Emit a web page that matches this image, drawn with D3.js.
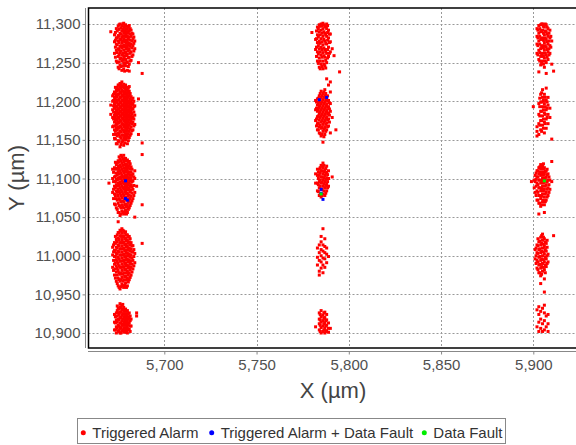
<!DOCTYPE html>
<html>
<head>
<meta charset="utf-8">
<script src="https://cdn.jsdelivr.net/npm/d3@7"></script>
<style>
  body { margin: 0; background: #fff; }
  text { font-family: "Liberation Sans", Arial, sans-serif; }
</style>
</head>
<body>
<script>
var width = 576;
var height = 445;

var xTicks = [5700, 5750, 5800, 5850, 5900];
var yTicks = [10900, 10950, 11000, 11050, 11100, 11150, 11200, 11250, 11300];

// cluster centres (µm), columns left -> right, rows top -> bottom
var alarmCenters = [
  [5678, 11272], [5678, 11185], [5678, 11092], [5678, 10997], [5678, 10918],
  [5786, 11272], [5786, 11185], [5786, 11098], [5786, 11000], [5786, 10912],
  [5905, 11272], [5905, 11183], [5905, 11092], [5905, 11000], [5905, 10918]
];

// points per cluster: [dx, [dy, dy, ...]] in µm from the centre
var alarmOffsets = [
  // col 1
  [[-7, [18]], [-5, [-10, 5, 14]], [-4, [-20, -6, 2, 10, 22]], [-3, [-28, -14, -4, 6, 13, 25]],
   [-2, [-25, -17, -9, -1, 8, 16, 28]], [-1, [-32, -20, -12, -3, 4, 11, 19, 26]],
   [0, [-30, -22, -14, -6, 1, 9, 17, 24, 29]], [1, [-26, -18, -8, 0, 7, 15, 22, 27]],
   [2, [-32, -21, -11, -2, 6, 13, 21]], [3, [-33, -24, -15, -5, 3, 11, 19, 26]],
   [4, [-19, -8, 2, 12, 20]], [5, [-12, 0, 9, 15]], [6, [-4, 6]], [8, [-22]],
   [-4.5, [-15, -2, 7, 17]], [-3.5, [-22, -9, 1, 10, 19]], [-2.5, [-30, -21, -12, -5, 4, 12, 21, 27]],
   [-1.5, [-27, -16, -7, 0, 8, 15, 23]], [-0.5, [-26, -18, -10, -1, 6, 13, 21, 28]],
   [0.5, [-33, -25, -17, -10, -2, 5, 12, 19, 26]], [1.5, [-22, -13, -4, 3, 11, 18, 25]],
   [2.5, [-27, -16, -7, 1, 9, 17, 24]], [3.5, [-20, -10, -1, 7, 15, 22]],
   [4.5, [-14, -3, 6, 16]], [5.5, [-7, 3, 11]]],
  [[-7, [-2, 10]], [-6, [-18, -6, 4, 15, 22]], [-5, [-33, -22, -12, -3, 6, 12, 20, 27]],
   [-4, [-40, -28, -20, -14, -8, -2, 3, 9, 16, 23, 30]], [-3, [-36, -26, -19, -12, -6, 0, 5, 11, 17, 24, 31, 36]],
   [-2, [-44, -31, -24, -17, -10, -4, 2, 8, 14, 20, 27, 34, 38]], [-1, [-38, -29, -21, -14, -7, -1, 4, 10, 16, 23, 29, 35, 40]],
   [0, [-42, -33, -25, -18, -11, -5, 1, 7, 13, 19, 25, 32, 37]], [1, [-35, -27, -20, -13, -6, 0, 6, 12, 18, 24, 30, 36]],
   [2, [-40, -30, -22, -15, -8, -2, 4, 10, 17, 23, 29]], [3, [-32, -24, -16, -9, -3, 3, 9, 15, 22, 28, 34]],
   [4, [-27, -18, -10, -4, 2, 8, 14, 21]], [5, [-22, -12, -5, 5, 12, 19]], [6, [-15, -3, 9]],
   [8, [-28, 18]], [10, [51]],
   [-5.5, [-28, -17, -8, 1, 9, 16, 24]], [-4.5, [-34, -24, -17, -11, -5, 0, 6, 13, 19, 26, 33]],
   [-3.5, [-40, -30, -22, -15, -9, -3, 2, 8, 14, 21, 28, 33]], [-2.5, [-37, -28, -20, -13, -7, -1, 5, 11, 17, 24, 30, 36]],
   [-1.5, [-41, -33, -25, -18, -11, -4, 1, 7, 13, 20, 26, 32, 38]], [-0.5, [-36, -29, -22, -15, -8, -2, 4, 10, 16, 22, 28, 34]],
   [0.5, [-39, -30, -23, -16, -9, -3, 3, 9, 15, 21, 27, 33]], [1.5, [-32, -24, -17, -10, -4, 2, 8, 14, 20, 26, 33]],
   [2.5, [-36, -27, -19, -12, -5, 1, 7, 13, 20, 26, 32]], [3.5, [-29, -21, -13, -6, 0, 6, 12, 18, 25]],
   [4.5, [-23, -14, -7, -1, 5, 11, 17]], [5.5, [-17, -8, 1, 8, 15]]],
  [[-8, [2]], [-6, [-10, 8, 20]], [-5, [-25, -12, -2, 10, 22]], [-4, [-30, -18, -8, 0, 7, 15, 26]],
   [-3, [-48, -36, -24, -14, -6, 2, 9, 17, 24, 31]], [-2, [-40, -28, -20, -11, -4, 3, 10, 18, 25, 33]],
   [-1, [-34, -26, -17, -9, -2, 5, 12, 20, 28, 36]], [0, [-38, -30, -22, -14, -6, 1, 8, 15, 22, 30, 38]],
   [1, [-33, -25, -16, -8, -1, 6, 13, 21, 27, 34]], [2, [-36, -27, -19, -11, -3, 4, 11, 19, 26, 32]],
   [3, [-30, -21, -13, -5, 2, 9, 16, 24, 30]], [4, [-24, -15, -7, 0, 8, 16, 23]],
   [5, [-18, -6, 5, 14]], [6, [-42, -10, 8, 18]], [7, [-2]], [10, [-26, 39, 54]],
   [-5.5, [-18, -6, 4, 16]], [-4.5, [-26, -14, -4, 4, 11, 20, 29]], [-3.5, [-32, -20, -10, -2, 6, 13, 21, 28]],
   [-2.5, [-36, -27, -18, -9, -1, 7, 14, 21, 29, 36]], [-1.5, [-38, -30, -22, -14, -7, 1, 8, 15, 23, 31, 38]],
   [-0.5, [-36, -29, -21, -12, -4, 3, 10, 18, 25, 33]], [0.5, [-35, -26, -18, -10, -3, 4, 11, 18, 26, 34]],
   [1.5, [-38, -29, -20, -12, -5, 2, 9, 17, 24, 31]], [2.5, [-32, -23, -15, -7, 0, 7, 14, 22, 29]],
   [3.5, [-27, -18, -9, -2, 5, 12, 20, 27]], [4.5, [-21, -11, -3, 4, 12, 20]], [5.5, [-14, -1, 10]]],
  [[-6, [-12, 4, 14]], [-5, [-22, -8, 2, 10, 20]], [-4, [-30, -18, -10, -2, 6, 14, 24]],
   [-3, [-36, -26, -16, -7, 1, 9, 17, 26, 33]], [-2, [-40, -30, -21, -12, -4, 4, 12, 20, 29, 36]],
   [-1, [-34, -25, -16, -8, 0, 8, 16, 24, 32, 38]], [0, [-38, -28, -19, -11, -3, 5, 13, 21, 28, 35]],
   [1, [-32, -23, -14, -6, 2, 10, 18, 26, 34]], [2, [-36, -26, -17, -9, -1, 7, 15, 23, 30]],
   [3, [-28, -19, -11, -3, 5, 13, 21, 28]], [4, [-22, -12, -4, 4, 12, 20]], [5, [-14, -3, 8, 16]],
   [6, [-6, 6]], [10, [19]],
   [-5.5, [-16, -3, 8, 17]], [-4.5, [-26, -14, -6, 2, 10, 19, 28]], [-3.5, [-33, -22, -13, -4, 5, 13, 21, 30]],
   [-2.5, [-38, -28, -19, -10, -1, 8, 16, 24, 33]], [-1.5, [-37, -28, -20, -12, -4, 4, 12, 20, 28, 35]],
   [-0.5, [-36, -30, -21, -12, -4, 4, 12, 20, 28, 36]], [0.5, [-35, -24, -15, -7, 1, 9, 17, 25, 32]],
   [1.5, [-38, -28, -19, -10, -2, 6, 14, 22, 30]], [2.5, [-31, -22, -13, -5, 3, 11, 19, 27]],
   [3.5, [-25, -15, -7, 1, 9, 17, 25]], [4.5, [-18, -8, 0, 8, 16]], [5.5, [-10, 2, 11]]],
  [[-5, [-14, -4, 6]], [-4, [-18, -10, -1, 8]], [-3, [-16, -8, 0, 8, 14]],
   [-2, [-18, -12, -5, 2, 9, 16, 20]], [-1, [-15, -8, -2, 5, 12, 18]], [0, [-17, -11, -4, 3, 10, 15]],
   [1, [-14, -7, 0, 7, 13]], [2, [-18, -10, -3, 4, 11]], [3, [-13, -5, 2, 8]], [4, [-9, 0]], [7, [4, 8]],
   [-4.5, [-14, -5, 3]], [-3.5, [-12, -4, 4, 11, 17]], [-2.5, [-15, -9, -1, 6, 13]],
   [-1.5, [-18, -11, -5, 2, 9, 15]], [-0.5, [-14, -7, 0, 7, 13, 19]], [0.5, [-15, -8, -1, 6, 12]],
   [1.5, [-17, -11, -4, 3, 10]], [2.5, [-14, -7, 0, 7]], [3.5, [-16, -9, -2, 4]]],
  // col 2
  [[-6, [17]], [-4, [-5, 8]], [-3, [-20, -8, 4, 14, 24]], [-2, [-28, -16, -4, 6, 18, 27]],
   [-1, [-24, -12, -2, 9, 20, 28]], [0, [-30, -20, -9, 1, 12, 22, 29]], [1, [-26, -15, -5, 6, 16, 25]],
   [2, [-22, -10, 2, 12, 22, 28]], [3, [-14, -2, 10, 20]], [4, [-8, 5, 15]], [5, [-4]], [6, [-13]], [9, [-34]],
   [-3.5, [-14, -2, 9, 19]], [-2.5, [-23, -11, 0, 11, 22]], [-1.5, [-30, -20, -8, 3, 14, 25]],
   [-0.5, [-27, -15, -5, 5, 16, 26]], [0.5, [-24, -13, -3, 8, 18, 27]], [1.5, [-29, -19, -8, 3, 14, 24]],
   [2.5, [-16, -5, 7, 17, 26]], [3.5, [-10, 4, 15]]],
  [[-4, [-10, 4, 16]], [-3, [-22, -14, -5, 2, 10, 18]], [-2, [-26, -18, -9, -1, 7, 14, 22]],
   [-1, [-30, -20, -12, -4, 4, 12, 20, 28]], [0, [-38, -24, -15, -7, 1, 9, 17, 25]],
   [1, [-28, -19, -10, -2, 6, 14, 22, 30]], [2, [-22, -13, -5, 3, 11, 19, 44]],
   [3, [-17, -8, 0, 8, 16, 36]], [4, [-26, 2, 12, 27, 40]], [5, [-6]], [7, [-22]],
   [-3.5, [-17, -8, 6, 14]], [-2.5, [-22, -13, -4, 4, 11, 19]], [-1.5, [-27, -16, -6, 1, 9, 17, 25]],
   [-0.5, [-28, -19, -10, -2, 6, 14, 22]], [0.5, [-31, -21, -12, -4, 4, 12, 20, 27]],
   [1.5, [-24, -15, -7, 1, 9, 17, 25]], [2.5, [-18, -9, -1, 7, 15, 22]], [3.5, [-12, -3, 5, 13]]],
  [[-4, [-4, 8]], [-3, [-14, -4, 6, 14]], [-2, [-20, -10, -2, 6, 14]], [-1, [-22, -12, -4, 4, 12, 19]],
   [0, [-18, -8, 0, 8, 16, 22]], [1, [-20, -10, -2, 6, 13]], [2, [-14, -5, 3, 10, 18]],
   [3, [-8, 2, 12]], [5, [4]],
   [-2.5, [-15, -6, 2, 10]], [-1.5, [-18, -8, 0, 9, 16]], [-0.5, [-20, -12, -3, 4, 12, 18]],
   [0.5, [-14, -5, 3, 11, 19]], [1.5, [-17, -7, 1, 9, 15]], [2.5, [-10, -2, 7]]],
  [[-3, [-12, -2, 10]], [-2, [-25, -20, -6, 4, 14]], [-1, [-16, -8, 0, 8, 18, 25]],
   [0, [-22, -12, -3, 6, 14, 35]], [1, [-15, -4, 4, 12, 22]], [2, [-9, 2, 10]], [3, [-1]]],
  [[-4, [-4]], [-2, [-8, 0, 6, 14]], [-1, [-12, -5, 2, 9, 17]], [0, [-10, -3, 4, 11]],
   [1, [-12, -6, 1, 8, 15]], [2, [-9, -2, 5, 12]], [3, [-11, -6, 1]], [4, [-6]],
   [-1.5, [-10, -2, 5, 12]], [0.5, [-8, 0, 7, 14]], [1.5, [-10, -3, 4]]],
  // col 3
  [[-3, [-10, 2, 12, 22]], [-2, [-34, -18, -6, 6, 16, 26]], [-1, [-25, -14, -4, 8, 18, 27]],
   [0, [-20, -10, 0, 10, 20, 28]], [1, [-28, -16, -6, 4, 14, 24]], [2, [-36, -22, -12, -2, 8, 18, 27]],
   [3, [-18, -8, 2, 12, 22]], [4, [-10, 0, 10, 20]], [5, [-24, 6]], [6, [-33]],
   [-2.5, [-12, 0, 10, 20]], [-1.5, [-20, -9, 2, 12, 22]], [-0.5, [-22, -12, -1, 9, 19, 28]],
   [0.5, [-24, -14, -3, 7, 16, 25]], [1.5, [-20, -10, 0, 10, 19, 28]], [2.5, [-15, -5, 5, 15, 24]],
   [3.5, [-12, -4, 6, 16]], [4.5, [-2, 12]]],
  [[-5, [10]], [-3, [-28, -22, -16]], [-2, [-26, -12, 0, 14]], [-1, [-20, -8, 4, 16, 26]],
   [0, [-14, -2, 10, 22, 32]], [1, [-24, -10, 2, 14, 26]], [2, [-18, -6, 6, 18, 34]],
   [3, [-12, 0, 12, 22]], [4, [-4, 8]], [5, [-32]],
   [-1.5, [-14, -2, 10, 21]], [-0.5, [-22, -8, 4, 16, 28]], [0.5, [-18, -6, 6, 18]],
   [1.5, [-12, 0, 10, 22]], [2.5, [-4, 8, 16]]],
  [[-6, [4]], [-4, [-10, 4, 12]], [-3, [-20, -8, 2, 10, 18]], [-2, [-38, -24, -14, -4, 6, 14, 22]],
   [-1, [-28, -18, -8, 2, 12, 20, 26]], [0, [-22, -12, -2, 8, 16, 24]], [1, [-36, -26, -16, -6, 4, 14, 22]],
   [2, [-20, -10, 0, 10, 18]], [3, [-14, -4, 6, 14]], [4, [-6, 6]], [5, [4, 30]],
   [-4.5, [-4, 6]], [-3.5, [-14, -2, 7, 15]], [-2.5, [-20, -10, 0, 10, 18]],
   [-1.5, [-24, -14, -4, 6, 16, 23]], [-0.5, [-26, -15, -5, 5, 14, 22]], [0.5, [-20, -8, 2, 12, 20, 27]],
   [1.5, [-22, -12, -2, 8, 17]], [2.5, [-16, -6, 4, 13, 20]], [3.5, [-10, 0, 10]]],
  [[-4, [-4, 8]], [-3, [-16, -6, 4, 14]], [-2, [-22, -12, -2, 8, 18]], [-1, [-36, -26, -16, -6, 4, 14, 24]],
   [0, [-20, -10, 0, 10, 20, 28]], [1, [-47, -30, -18, -8, 2, 12, 22]], [2, [-14, -4, 6, 16]],
   [3, [-8, 2]], [6, [26]],
   [-3.5, [-10, 0, 10]], [-2.5, [-18, -8, 3, 13, 22]], [-1.5, [-22, -11, -1, 9, 19]],
   [-0.5, [-24, -14, -4, 6, 16, 26]], [0.5, [-15, -5, 5, 15, 24]], [1.5, [-22, -12, -2, 8, 18]],
   [2.5, [-10, 0, 11, 20]]],
  [[-3, [-10, 12]], [-2, [-16, -4, 6, 16]], [-1, [-12, 0, 10]], [0, [-16, -6, 14]],
   [1, [-14, -2, 8, 18]], [2, [-10, 4]], [3, [-16, -6, 6]]]
];

var alarmFaultPoints = [
  [5679, 11097], [5680, 11072], [5679, 11074],
  [5784, 11202], [5788, 11205],
  [5785, 11086], [5785, 11081], [5786, 11073]
];
var dataFaultPoints = [[5785, 11080], [5906, 11097]];

var legendLabels = ["Triggered Alarm", "Triggered Alarm + Data Fault", "Data Fault"];
var legendColors = ["#ff0000", "#0000ff", "#00ee00"];

// flatten cluster columns into [x, y] points
var alarmPoints = [];
alarmOffsets.forEach(function (cluster, i) {
  var c = alarmCenters[i];
  cluster.forEach(function (col) {
    col[1].forEach(function (dy) { alarmPoints.push([c[0] + col[0], c[1] + dy]); });
  });
});

var svg = d3.select("body").append("svg")
    .attr("width", width)
    .attr("height", height);

var plotLeft = 88.5, plotTop = 8, plotBottom = 348, plotRight = 600;

var x = d3.scaleLinear().domain([5700, 5900]).range([164.3, 533.3]);
var y = d3.scaleLinear().domain([10900, 11300]).range([333, 24]);

// grid
svg.append("g").selectAll("line.gx")
    .data(xTicks).enter().append("line")
    .attr("x1", function (d) { return Math.round(x(d)) + 0.5; })
    .attr("x2", function (d) { return Math.round(x(d)) + 0.5; })
    .attr("y1", plotTop).attr("y2", plotBottom)
    .attr("stroke", "#999").attr("stroke-dasharray", "2,2");
svg.append("g").selectAll("line.gy")
    .data(yTicks).enter().append("line")
    .attr("x1", plotLeft).attr("x2", plotRight)
    .attr("y1", function (d) { return Math.round(y(d)) + 0.5; })
    .attr("y2", function (d) { return Math.round(y(d)) + 0.5; })
    .attr("stroke", "#999").attr("stroke-dasharray", "2,2");

// points (small squares, like the original markers)
var size = 3;
function drawPoints(data, color) {
  svg.append("g").selectAll("rect")
      .data(data).enter().append("rect")
      .attr("x", function (d) { return x(d[0]) - size / 2; })
      .attr("y", function (d) { return y(d[1]) - size / 2; })
      .attr("width", size).attr("height", size)
      .attr("fill", color);
}
drawPoints(alarmPoints, legendColors[0]);
drawPoints(alarmFaultPoints, legendColors[1]);
drawPoints(dataFaultPoints, legendColors[2]);

// plot frame
svg.append("rect")
    .attr("x", plotLeft).attr("y", plotTop)
    .attr("width", plotRight - plotLeft).attr("height", plotBottom - plotTop)
    .attr("fill", "none").attr("stroke", "#000").attr("stroke-width", 1.5);

// axes
var yAxis = svg.append("g")
    .attr("transform", "translate(85.5,0)")
    .call(d3.axisLeft(y).tickValues(yTicks).tickFormat(d3.format(",")).tickSizeInner(3).tickSizeOuter(0).tickPadding(2));
yAxis.select(".domain").attr("d", "M0," + plotTop + "V" + plotBottom);

var xAxis = svg.append("g")
    .attr("transform", "translate(0,351.5)")
    .call(d3.axisBottom(x).tickValues(xTicks).tickFormat(d3.format(",")).tickSizeInner(3).tickSizeOuter(0).tickPadding(5));
xAxis.select(".domain").attr("d", "M88," + 0 + "H" + plotRight);

svg.selectAll(".tick line").attr("stroke", "#888");
svg.selectAll(".domain").attr("stroke", "#888");
svg.selectAll(".tick text")
    .attr("fill", "#505050")
    .style("font-size", "15px")
    .style("font-family", "'Liberation Sans', Arial, sans-serif");

// axis titles
svg.append("text")
    .attr("x", 333).attr("y", 397.5)
    .attr("text-anchor", "middle")
    .attr("fill", "#444")
    .style("font-size", "22px")
    .text("X (µm)");
svg.append("text")
    .attr("transform", "translate(24,178) rotate(-90)")
    .attr("text-anchor", "middle")
    .attr("fill", "#444")
    .style("font-size", "22px")
    .text("Y (µm)");

// legend
var legend = svg.append("g");
legend.append("rect")
    .attr("x", 77.5).attr("y", 418.5)
    .attr("width", 428).attr("height", 25)
    .attr("fill", "#fff").attr("stroke", "#888");
var legendX = [83.3, 211.7, 424.3];
legendLabels.forEach(function (label, i) {
  legend.append("circle")
      .attr("cx", legendX[i]).attr("cy", 432.7)
      .attr("r", 2.5).attr("fill", legendColors[i]);
  legend.append("text")
      .attr("x", legendX[i] + 9).attr("y", 438)
      .attr("fill", "#333")
      .style("font-size", "15px")
      .text(label);
});
</script>
</body>
</html>
